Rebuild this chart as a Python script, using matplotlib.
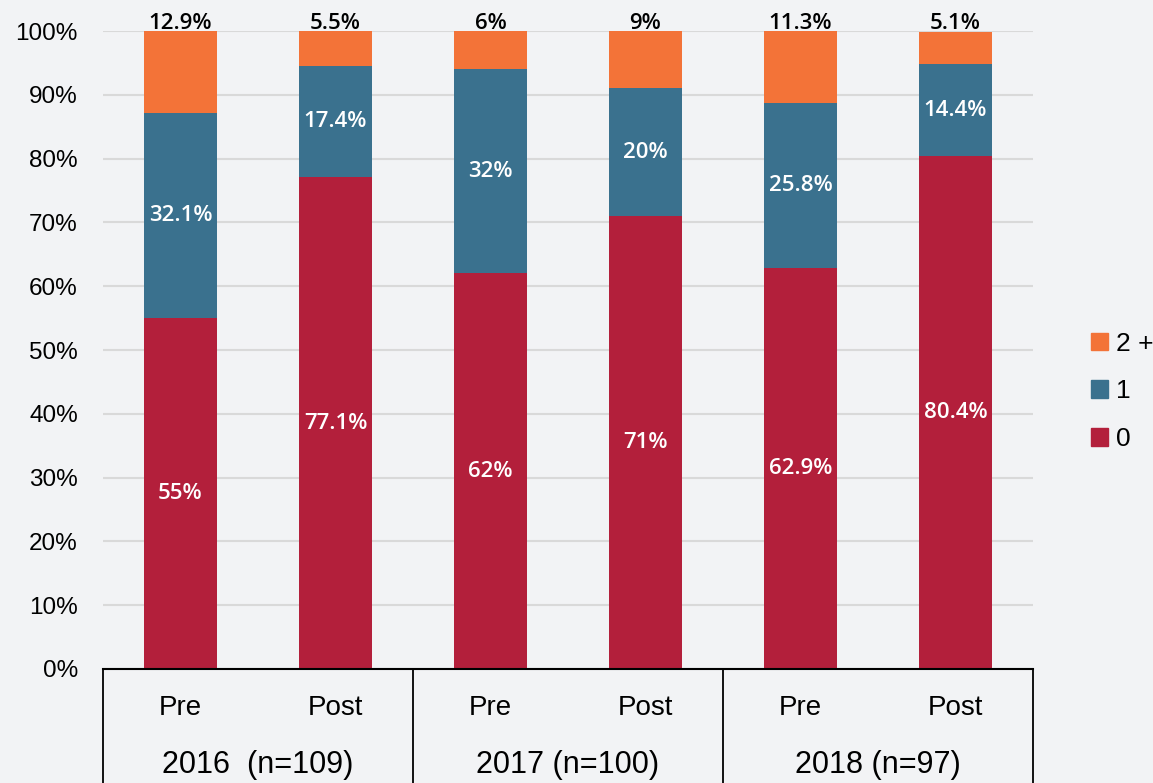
import matplotlib
matplotlib.use('Agg')
import matplotlib.pyplot as plt
import matplotlib.patches as mpatches
import matplotlib.transforms as mtransforms

plt.rcParams['font.family'] = ['Liberation Sans', 'DejaVu Sans']

# data
bar_labels = ['Pre', 'Post', 'Pre', 'Post', 'Pre', 'Post']
group_labels = ['2016  (n=109)', '2017 (n=100)', '2018 (n=97)']
zero = [55, 77.1, 62, 71, 62.9, 80.4]
one = [32.1, 17.4, 32, 20, 25.8, 14.4]
two_plus = [12.9, 5.5, 6, 9, 11.3, 5.1]
zero_txt = ['55%', '77.1%', '62%', '71%', '62.9%', '80.4%']
one_txt = ['32.1%', '17.4%', '32%', '20%', '25.8%', '14.4%']
two_txt = ['12.9%', '5.5%', '6%', '9%', '11.3%', '5.1%']

bg = '#f2f3f5'
c_zero = '#b31f3b'
c_one = '#3a718e'
c_two = '#f37338'

fig = plt.figure(figsize=(11.53, 7.83), dpi=100, facecolor=bg)
ax = fig.add_axes([0.0893, 0.1456, 0.8066, 0.8148], facecolor=bg)

x = list(range(len(zero)))
w = 0.465
bottom_one = zero
bottom_two = [a + b for a, b in zip(zero, one)]

ax.bar(x, zero, w, color=c_zero, zorder=3)
ax.bar(x, one, w, bottom=bottom_one, color=c_one, zorder=3)
ax.bar(x, two_plus, w, bottom=bottom_two, color=c_two, zorder=3)

lab_font = ['Open Sans', 'DejaVu Sans']
for i in x:
    ax.text(i, zero[i] / 2, zero_txt[i], ha='center', va='center', color='white',
            fontsize=16, family=lab_font, fontweight='semibold', zorder=4)
    ax.text(i, zero[i] + one[i] / 2, one_txt[i], ha='center', va='center', color='white',
            fontsize=16, family=lab_font, fontweight='semibold', zorder=4)
    ax.text(i, 99.6, two_txt[i], ha='center', va='bottom', color='black',
            fontsize=16, family=lab_font, fontweight='semibold', zorder=4)

ax.set_xlim(-0.5, 5.5)
ax.set_ylim(0, 100)
ax.set_yticks(range(0, 101, 10))
ax.set_yticklabels([f'{v}%' for v in range(0, 101, 10)], fontsize=17.5)
ax.tick_params(axis='y', length=0, pad=18)
ax.set_xticks([])
ax.yaxis.grid(True, color='#d9d9d9', lw=1.5, zorder=0)
for s in ['top', 'right', 'left']:
    ax.spines[s].set_visible(False)
ax.spines['bottom'].set_linewidth(1.5)
ax.spines['bottom'].set_zorder(5)

# grouped category axis
trans = mtransforms.blended_transform_factory(ax.transData, ax.transAxes)
for gx in [-0.5, 1.5, 3.5, 5.5]:
    ax.plot([gx, gx], [0, -0.2], color='black', lw=1.3, transform=trans, clip_on=False)
for i, lab in enumerate(bar_labels):
    ax.text(i, -0.061, lab, ha='center', va='center', fontsize=20, transform=trans)
for g, lab in enumerate(group_labels):
    ax.text(2 * g + 0.5, -0.150, lab, ha='center', va='center', fontsize=22, transform=trans)

# legend
handles = [mpatches.Patch(color=c_two, label='2 +'),
           mpatches.Patch(color=c_one, label='1'),
           mpatches.Patch(color=c_zero, label='0')]
fig.legend(handles=handles, loc='center left', bbox_to_anchor=(0.946, 0.5),
           frameon=False, fontsize=19, handlelength=0.65, handleheight=0.65,
           handletextpad=0.3, labelspacing=0.9, borderaxespad=0, borderpad=0)

fig.savefig('out.png', dpi=100, facecolor=bg)
